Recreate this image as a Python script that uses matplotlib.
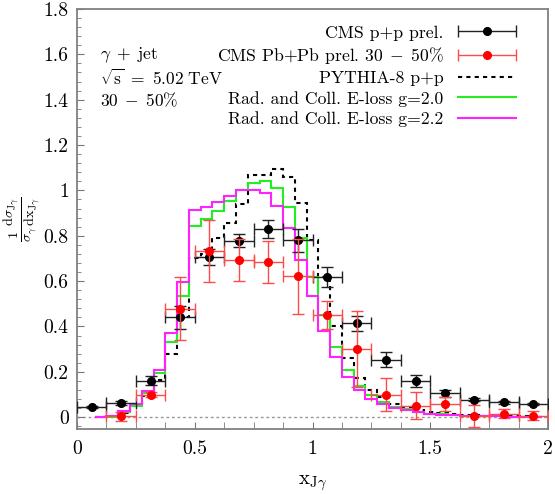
import numpy as np
import matplotlib
matplotlib.use("Agg")
import matplotlib.pyplot as plt
from matplotlib.ticker import MultipleLocator
from matplotlib.legend_handler import HandlerErrorbar

plt.rcParams['font.family'] = 'serif'
plt.rcParams['font.serif'] = ['cmr10', 'DejaVu Serif']
plt.rcParams['mathtext.fontset'] = 'cm'
plt.rcParams['axes.unicode_minus'] = False
plt.rcParams['axes.formatter.use_mathtext'] = True

# ---- data ----
# CMS points (bin centres, width 0.125)
cms_x = [0.0625, 0.1875, 0.3125, 0.4375, 0.5625, 0.6875, 0.8125, 0.9375,
         1.0625, 1.1875, 1.3125, 1.4375, 1.5625, 1.6875, 1.8125, 1.9375]
pp_y = [0.046, 0.063, 0.161, 0.44, 0.707, 0.779, 0.829, 0.78,
        0.618, 0.414, 0.254, 0.158, 0.105, 0.078, 0.065, 0.058]
pp_err = [0.005, 0.01, 0.02, 0.05, 0.035, 0.03, 0.04, 0.05,
          0.044, 0.033, 0.032, 0.027, 0.015, 0.008, 0.006, 0.006]
pbpb_x = [0.1875, 0.3125, 0.4375, 0.5625, 0.6875, 0.8125, 0.9375,
          1.0625, 1.1875, 1.3125, 1.4375, 1.5625, 1.6875, 1.8125, 1.9375]
pbpb_y = [0.004, 0.10, 0.479, 0.731, 0.692, 0.685, 0.621,
          0.45, 0.301, 0.10, 0.05, 0.058, 0.007, 0.016, 0.007]
pbpb_err = [0.02, 0.012, 0.14, 0.137, 0.092, 0.094, 0.166,
            0.063, 0.168, 0.074, 0.06, 0.03, 0.048, 0.02, 0.02]
cms_xerr = 0.0625

# theory histograms (bin centres, width 0.05)
th_x = [0.10, 0.15, 0.20, 0.25, 0.30, 0.35, 0.40, 0.45, 0.50, 0.55,
        0.60, 0.65, 0.70, 0.75, 0.80, 0.85, 0.90, 0.95, 1.00, 1.05,
        1.10, 1.15, 1.20, 1.25, 1.30, 1.35, 1.40, 1.45, 1.50, 1.55,
        1.60, 1.65, 1.70, 1.75, 1.80, 1.85, 1.90, 1.95]
pythia = [0.0, 0.005, 0.02, 0.05, 0.095, 0.165, 0.28, 0.444, 0.70, 0.72,
          0.79, 0.857, 0.94, 1.066, 1.07, 1.093, 1.06, 0.945, 0.78, 0.62,
          0.40, 0.26, 0.171, 0.122, 0.09, 0.06, 0.043, 0.032, 0.024, 0.018,
          0.014, 0.011, 0.009, 0.007, 0.006, 0.005, 0.004, 0.003]
g20 = [0.0, 0.003, 0.022, 0.05, 0.105, 0.195, 0.33, 0.535, 0.843, 0.873,
       0.91, 0.955, 1.0, 1.032, 1.04, 1.01, 0.928, 0.79, 0.62, 0.451,
       0.311, 0.208, 0.137, 0.096, 0.068, 0.046, 0.034, 0.022, 0.016, 0.012,
       0.009, 0.007, 0.006, 0.005, 0.004, 0.003, 0.003, 0.002]
g22 = [0.0, 0.006, 0.028, 0.057, 0.115, 0.21, 0.37, 0.594, 0.913, 0.928,
       0.951, 0.975, 1.0, 1.004, 0.99, 0.93, 0.835, 0.695, 0.535, 0.382,
       0.264, 0.178, 0.12, 0.081, 0.058, 0.041, 0.031, 0.021, 0.014, 0.011,
       0.009, 0.007, 0.006, 0.005, 0.004, 0.003, 0.003, 0.002]
th_halfwidth = 0.025

labels = ["CMS p+p prel.", r"CMS Pb+Pb prel. $30\;-\;50\%$", "PYTHIA-8 p+p",
          "Rad. and Coll. E-loss g=2.0", "Rad. and Coll. E-loss g=2.2"]

# ---- figure ----
fig = plt.figure(figsize=(5.55, 4.94), dpi=100)
ax = fig.add_axes([77/555, 65/494, 471/555, 420/494])

ax.axhline(0, color='#999999', lw=1, ls=(0, (2, 2)), zorder=1)

edges = np.append(np.array(th_x) - th_halfwidth, th_x[-1] + th_halfwidth)
LW = 1.5
py_ls = (0, (2.0, 2.0))
ax.stairs(pythia, edges, baseline=None, color='black', lw=LW, ls=py_ls, zorder=2)
ax.stairs(g20, edges, baseline=None, color='#22ee22', lw=LW, zorder=3)
ax.stairs(g22, edges, baseline=None, color='#ff22ff', lw=LW, zorder=4)

MS = 5.5
CAP = 4.3
ax.errorbar(cms_x, pp_y, xerr=cms_xerr, yerr=pp_err, fmt='o', color='black',
            ecolor='#222222', ms=MS, elinewidth=1, capsize=CAP, capthick=1,
            zorder=6)
ax.errorbar(pbpb_x, pbpb_y, xerr=cms_xerr, yerr=pbpb_err, fmt='o', color='#ff0000',
            ecolor='#ff4a4a', ms=MS, elinewidth=1, capsize=CAP, capthick=1,
            zorder=7)

# legend proxies (horizontal error bar only)
p1 = ax.errorbar([np.nan], [np.nan], xerr=[0.1], fmt='o', color='black',
                 ecolor='#222222', ms=MS, elinewidth=1, capsize=CAP)
p2 = ax.errorbar([np.nan], [np.nan], xerr=[0.1], fmt='o', color='#ff0000',
                 ecolor='#ff4a4a', ms=MS, elinewidth=1, capsize=CAP)
l3, = ax.plot([], [], color='black', lw=LW, ls=py_ls)
l4, = ax.plot([], [], color='#22ee22', lw=LW)
l5, = ax.plot([], [], color='#ff22ff', lw=LW)

FS_LEG = 12.7
leg = ax.legend([p1, p2, l3, l4, l5], labels, loc='upper right',
                bbox_to_anchor=(0.947, 0.978), frameon=False, markerfirst=False,
                fontsize=FS_LEG, handlelength=3.3, labelspacing=0.26,
                handleheight=0.7, handletextpad=0.8, borderaxespad=0.0,
                numpoints=1,
                handler_map={p1: HandlerErrorbar(xerr_size=1.65),
                             p2: HandlerErrorbar(xerr_size=1.65)})

FS_TXT = 12.5
ax.text(0.049, 0.890, r"$\gamma\;+\;\mathrm{jet}$", transform=ax.transAxes,
        fontsize=FS_TXT, va='center', ha='left')
ax.text(0.049, 0.836, r"$\sqrt{\mathrm{s}}\ =\ 5.02\ \mathrm{TeV}$", transform=ax.transAxes,
        fontsize=FS_TXT, va='center', ha='left')
ax.text(0.049, 0.783, r"$30\;-\;50\%$", transform=ax.transAxes,
        fontsize=FS_TXT, va='center', ha='left')

ax.set_xlim(0, 2)
ax.set_ylim(-0.052, 1.8)
ax.xaxis.set_minor_locator(MultipleLocator(0.125))
ax.yaxis.set_minor_locator(MultipleLocator(0.04))
ax.set_xticks([0, 0.5, 1, 1.5, 2])
ax.set_xticklabels(['0', '0.5', '1', '1.5', '2'])
ax.set_yticks([0, 0.2, 0.4, 0.6, 0.8, 1, 1.2, 1.4, 1.6, 1.8])
ax.set_yticklabels(['0', '0.2', '0.4', '0.6', '0.8', '1', '1.2', '1.4', '1.6', '1.8'])
ax.tick_params(axis='both', which='both', direction='in', top=False, right=False,
               labelsize=14.2, color='#777777')
ax.tick_params(axis='x', which='major', length=5, pad=8)
ax.tick_params(axis='x', which='minor', length=5)
ax.tick_params(axis='y', which='major', length=5, pad=6)
ax.tick_params(axis='y', which='minor', length=3)
for s in ax.spines.values():
    s.set_color('#808080')
    s.set_linewidth(1.3)

ax.set_xlabel(r"$\mathrm{x_{J\gamma}}$", fontsize=15, labelpad=11)
ax.set_ylabel(r"$\frac{1}{\sigma_\gamma}\frac{\mathrm{d}\sigma_{\mathrm{J}\gamma}}{\mathrm{dx}_{\mathrm{J}\gamma}}$",
              fontsize=14.5)
ax.yaxis.set_label_coords(-0.074, 0.5)

fig.savefig("out.png", dpi=100)
